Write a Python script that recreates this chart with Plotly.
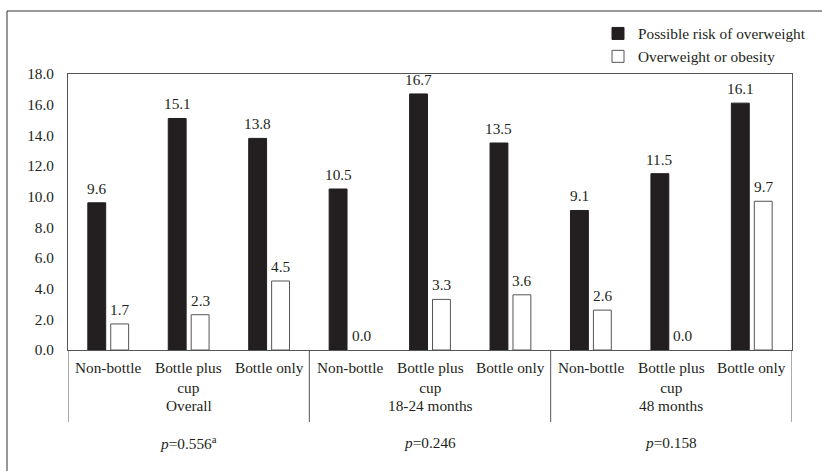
import plotly.graph_objects as go

categories = ["Non-bottle", "Bottle plus<br>cup", "Bottle only"] * 3
groups = ["Overall", "18-24 months", "48 months"]
p_labels = ["<i>p</i>=0.556<sup>a</sup>", "<i>p</i>=0.246", "<i>p</i>=0.158"]
risk = [9.6, 15.1, 13.8, 10.5, 16.7, 13.5, 9.1, 11.5, 16.1]
overweight = [1.7, 2.3, 4.5, 0.0, 3.3, 3.6, 2.6, 0.0, 9.7]
y_ticks = [0, 2, 4, 6, 8, 10, 12, 14, 16, 18]

FONT = "Liberation Serif, Times New Roman, serif"
FS = 15.3
TXT = "#231f20"
x = list(range(len(categories)))

W, H = 822, 471
L, R, T, B = 68, 30, 74, 121
pw, ph = W - L - R, H - T - B
BARGAP = 0.43


def py(pix):
    return (H - B - pix) / ph


def px(pix):
    return (pix - L) / pw


fig = go.Figure()
fig.add_trace(go.Bar(
    x=x, y=risk, name="Possible risk of overweight",
    marker=dict(color="#231f20", line=dict(color="#231f20", width=1)),
    hoverinfo="skip",
))
fig.add_trace(go.Bar(
    x=x, y=overweight, name="Overweight or obesity",
    marker=dict(color="white",
                line=dict(color="#555555", width=[1 if v > 0 else 0 for v in overweight])),
    hoverinfo="skip",
))

shapes = []
for xv in [-0.5, 2.5, 5.5, 8.5]:
    shapes.append(dict(type="line", xref="x", yref="paper", x0=xv, x1=xv,
                       y0=0, y1=py(422), line=dict(color="#555555", width=1)))
shapes.append(dict(type="line", xref="paper", yref="paper", x0=px(7), x1=px(830),
                   y0=py(11), y1=py(11), line=dict(color="#333333", width=1)))
shapes.append(dict(type="line", xref="paper", yref="paper", x0=px(7), x1=px(7),
                   y0=py(11), y1=py(480), line=dict(color="#333333", width=1)))

annotations = []
half_slot = pw / len(categories) * (1 - BARGAP) / 4
for series, sh in ((risk, -half_slot), (overweight, half_slot)):
    for i, v in enumerate(series):
        annotations.append(dict(x=i, y=v, xref="x", yref="y", text=f"{v:.1f}",
                                showarrow=False, xshift=sh, yshift=4,
                                xanchor="center", yanchor="bottom",
                                font=dict(family=FONT, size=FS, color=TXT)))
for i, c in enumerate(categories):
    annotations.append(dict(x=i, y=py(357), xref="x", yref="paper", text=c,
                            showarrow=False, yanchor="top", xanchor="center",
                            font=dict(family=FONT, size=FS, color=TXT)))
for g, (name, p) in enumerate(zip(groups, p_labels)):
    annotations.append(dict(x=3 * g + 1, y=py(405), xref="x", yref="paper", text=name,
                            showarrow=False, yanchor="middle",
                            font=dict(family=FONT, size=FS, color=TXT)))
    annotations.append(dict(x=3 * g + 1, y=py(442), xref="x", yref="paper", text=p,
                            showarrow=False, yanchor="middle",
                            font=dict(family=FONT, size=FS, color=TXT)))

fig.update_layout(
    width=W, height=H,
    margin=dict(l=L, r=R, t=T, b=B, autoexpand=False),
    paper_bgcolor="white", plot_bgcolor="white",
    barmode="group", bargap=BARGAP, bargroupgap=0.22,
    font=dict(family=FONT, size=FS, color=TXT),
    showlegend=True,
    legend=dict(x=px(598), y=py(45), xanchor="left", yanchor="middle",
                bgcolor="rgba(0,0,0,0)", tracegroupgap=0,
                font=dict(family=FONT, size=FS, color=TXT),
                itemwidth=30),
    shapes=shapes, annotations=annotations,
    xaxis=dict(range=[-0.5, 8.5], showticklabels=False, ticks="", showgrid=False,
               zeroline=False, showline=True, linecolor="#555555", linewidth=1,
               mirror=True, fixedrange=True),
    yaxis=dict(range=[0, 18], tickvals=y_ticks, tickformat=".1f", showgrid=False,
               zeroline=False, showline=True, linecolor="#555555", linewidth=1,
               mirror=True, ticks="", ticklabelstandoff=10, fixedrange=True,
               tickfont=dict(family=FONT, size=FS, color=TXT)),
)

fig.write_html("out.html", config={"displayModeBar": False},
               post_script="document.body.style.margin='0px';")
